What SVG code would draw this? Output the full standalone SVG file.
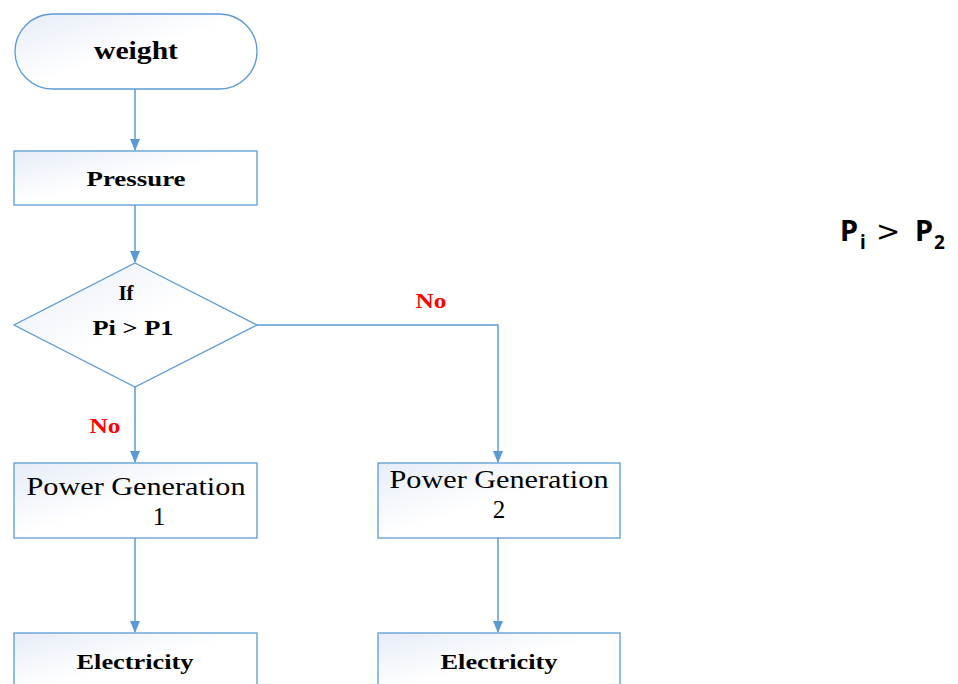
<svg xmlns="http://www.w3.org/2000/svg" width="958" height="684" viewBox="0 0 958 684">
<defs>
<linearGradient id="g" x1="0" y1="0" x2="1" y2="1">
<stop offset="0" stop-color="#e6ecf7"/>
<stop offset="0.5" stop-color="#ffffff"/>
<stop offset="1" stop-color="#ffffff"/>
</linearGradient>
<marker id="a" markerWidth="12" markerHeight="10" refX="11" refY="5" orient="auto" markerUnits="userSpaceOnUse">
<path d="M0,0 L12,5 L0,10 Z" fill="#5b9bd5"/>
</marker>
</defs>
<style>
.n{fill:url(#g);stroke:#5b9bd5;stroke-width:1.3}
.c{fill:none;stroke:#5b9bd5;stroke-width:1.5}
.b{font-family:"Liberation Serif",serif;font-weight:bold;fill:#000;text-anchor:middle}
.r{font-family:"Liberation Serif",serif;fill:#000;text-anchor:middle}
.no{font-family:"Liberation Serif",serif;font-weight:bold;fill:#ff0000;text-anchor:middle;font-size:20px}
</style>
<rect width="958" height="684" fill="#fff"/>
<g id="connectors">
<path class="c" d="M135,89 V150" marker-end="url(#a)"/>
<path class="c" d="M135,205 V262" marker-end="url(#a)"/>
<path class="c" d="M135,387 V462" marker-end="url(#a)"/>
<path class="c" d="M257,325 H498 V462" marker-end="url(#a)"/>
<path class="c" d="M135,538 V632" marker-end="url(#a)"/>
<path class="c" d="M498,538 V632" marker-end="url(#a)"/>
</g>
<g id="weight">
<rect class="n" x="15" y="14" width="242" height="75" rx="37.5" ry="37.5"/>
<text class="b" x="136" y="59" font-size="26" textLength="84" lengthAdjust="spacingAndGlyphs">weight</text>
</g>
<g id="pressure">
<rect class="n" x="14" y="151" width="243" height="54"/>
<text class="b" x="136" y="186" font-size="22" textLength="99" lengthAdjust="spacingAndGlyphs">Pressure</text>
</g>
<g id="decision">
<polygon class="n" points="135,263 257,325 135,387 14,325"/>
<text class="b" x="126" y="300" font-size="21">If</text>
<text class="b" x="133" y="335" font-size="21" textLength="81" lengthAdjust="spacingAndGlyphs">Pi &gt; P1</text>
</g>
<text class="no" x="431" y="308" textLength="31" lengthAdjust="spacingAndGlyphs">No</text>
<text class="no" x="105" y="433" textLength="31" lengthAdjust="spacingAndGlyphs">No</text>
<g id="pg1">
<rect class="n" x="14" y="463" width="243" height="75"/>
<text class="r" x="136" y="495" font-size="25" textLength="219" lengthAdjust="spacingAndGlyphs">Power Generation</text>
<text class="r" x="159" y="525" font-size="25">1</text>
</g>
<g id="pg2">
<rect class="n" x="378" y="463" width="242" height="75"/>
<text class="r" x="499" y="488" font-size="25" textLength="219" lengthAdjust="spacingAndGlyphs">Power Generation</text>
<text class="r" x="499" y="518" font-size="25">2</text>
</g>
<g id="elec1">
<rect class="n" x="14" y="633" width="243" height="60"/>
<text class="b" x="135" y="669" font-size="22" textLength="117" lengthAdjust="spacingAndGlyphs">Electricity</text>
</g>
<g id="elec2">
<rect class="n" x="378" y="633" width="242" height="60"/>
<text class="b" x="499" y="669" font-size="22" textLength="117" lengthAdjust="spacingAndGlyphs">Electricity</text>
</g>
<g id="formula" font-family="'Noto Sans','DejaVu Sans',sans-serif" font-weight="bold" fill="#000">
<text x="840" y="241" font-size="29">P</text>
<text x="860" y="249" font-size="19">i</text>
<text x="876" y="241" font-size="29" font-family="'DejaVu Sans',sans-serif" font-weight="normal">&gt;</text>
<text x="915" y="241" font-size="29">P</text>
<text x="934" y="249" font-size="19">2</text>
</g>
</svg>
